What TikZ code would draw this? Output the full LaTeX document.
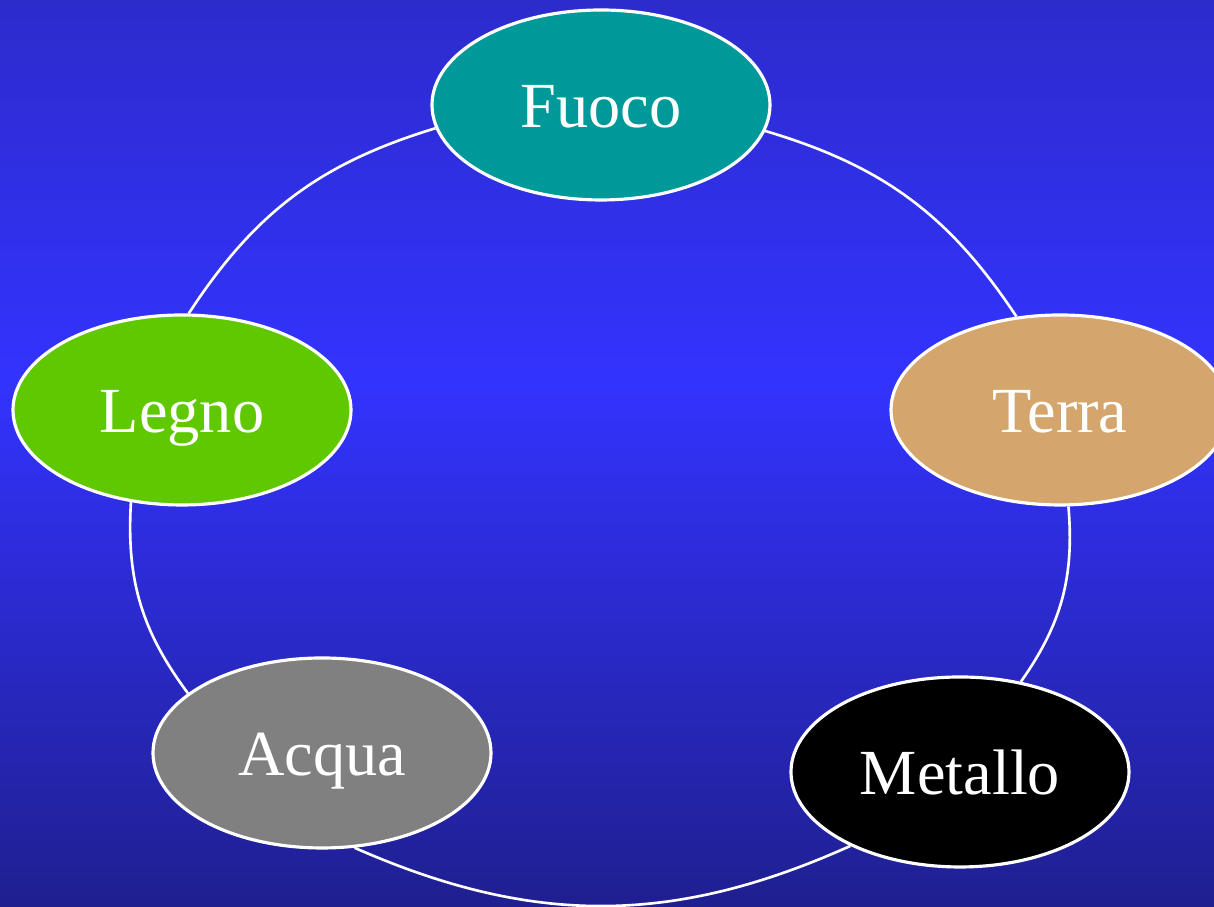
\documentclass[tikz,border=0pt]{standalone}
\usepackage{fontspec}
\setmainfont{Liberation Serif}
\usetikzlibrary{shapes.geometric}
\definecolor{fondoalto}{RGB}{41,41,185}
\definecolor{fondomezzo}{RGB}{51,51,255}
\definecolor{fondobasso}{RGB}{31,31,144}
\definecolor{fuoco}{RGB}{0,153,153}
\definecolor{terra}{RGB}{212,165,108}
\definecolor{legno}{RGB}{96,200,0}
\definecolor{acqua}{RGB}{128,128,128}
\begin{document}
\begin{tikzpicture}[
    elem/.style={ellipse,draw=white,line width=0.9pt,minimum width=3.38cm,minimum height=1.9cm,
        inner sep=0pt,text height=0.46cm,text depth=0pt,text=white,font=\fontsize{18.3}{22}\selectfont},
    arco/.style={draw=white,line width=0.75pt}]
            \useasboundingbox (0,0) rectangle (12.14,9.07);
            \clip (0,0) rectangle (12.14,9.07);
            \shade [top color=fondoalto,bottom color=fondobasso,middle color=fondomezzo] (0,0) rectangle (12.14,10.5);
            \node [elem,fill=fuoco] (fuoco) at (6.01,8.02) {Fuoco};
            \node [elem,fill=terra] (terra) at (10.60,4.97) {Terra};
            \node [elem,fill=black] (metallo) at (9.60,1.35) {Metallo};
            \node [elem,fill=acqua] (acqua) at (3.22,1.54) {Acqua};
            \node [elem,fill=legno] (legno) at (1.82,4.97) {Legno};
            % il ciclo
            \draw [arco] (fuoco.351) to[bend left=20] (terra.115);
            \draw [arco] (terra.275) to[bend left=20] (metallo.56);
            \draw [arco] (metallo.214) to[bend left=24] (acqua.289);
            \draw [arco] (acqua.156) to[bend left=20] (legno.241);
            \draw [arco] (legno.86) to[bend left=20] (fuoco.188);
\end{tikzpicture}
\end{document}
